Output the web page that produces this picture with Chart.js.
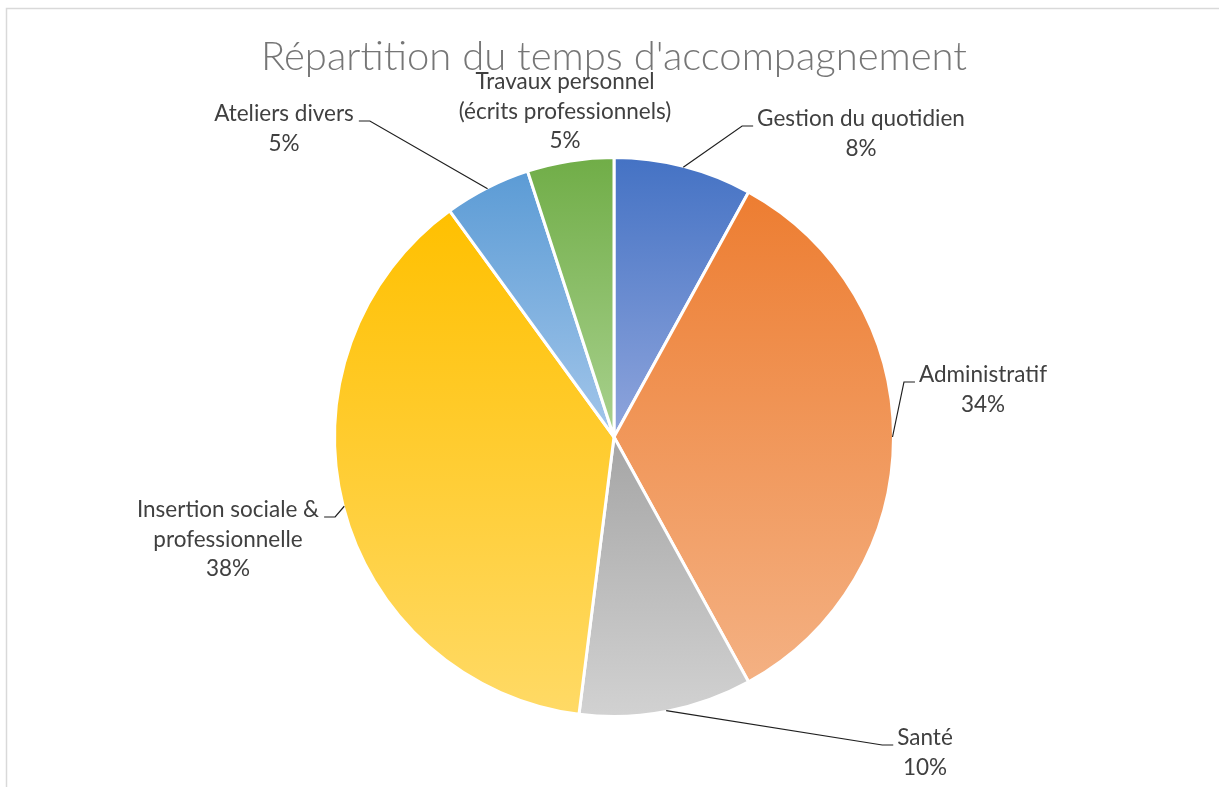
<!DOCTYPE html>
<html lang="fr">
<head>
<meta charset="utf-8">
<title>Répartition du temps d'accompagnement</title>
<script src="https://cdn.jsdelivr.net/npm/chart.js@4.4.1/dist/chart.umd.min.js"></script>
<style>
  html, body { margin: 0; padding: 0; background: #fff; }
  #wrap { width: 1219px; height: 787px; }
</style>
</head>
<body>
<div id="wrap"><canvas id="pieChart" width="1219" height="787"></canvas></div>
<script>
// data
const chartTitle = "Répartition du temps d'accompagnement";
const categories = [
  ['Gestion du quotidien'],
  ['Administratif'],
  ['Santé'],
  ['Insertion sociale &', 'professionnelle'],
  ['Ateliers divers'],
  ['Travaux personnel', '(écrits professionnels)']
];
const shares = [8, 34, 10, 38, 5, 5];

// gradient colours, top -> bottom of each slice
const topColors = ['#4472C4', '#ED7D31', '#A5A5A5', '#FFC000', '#5B9BD5', '#70AD47'];
const bottomColors = ['#8FA5DC', '#F4B183', '#D2D2D2', '#FFDA66', '#A3C6EA', '#A9D18E'];

// label placement: offset of first text line centre from pie centre, side of leader
const labelPlacement = [
  { dx: 247, dy: -318, side: 'left' },
  { dx: 369, dy: -62, side: 'left' },
  { dx: 311, dy: 301, side: 'left' },
  { dx: -386, dy: 73, side: 'right' },
  { dx: -330, dy: -323, side: 'right' },
  { dx: -49, dy: -355, side: null }
];

const labelFont = '22.5px Lato, "Liberation Sans", sans-serif';
const titleFont = '300 40px Lato, "Liberation Sans", sans-serif';
const lineGap = 29.5;

function sliceGradient(context) {
  const i = context.dataIndex;
  const chart = context.chart;
  const area = chart.chartArea;
  if (!area) return topColors[i];
  const cx = (area.left + area.right) / 2;
  const cy = (area.top + area.bottom) / 2;
  const r = Math.min(area.width, area.height) / 2;
  const total = shares.reduce((a, b) => a + b, 0);
  const before = shares.slice(0, i).reduce((a, b) => a + b, 0);
  const start = -Math.PI / 2 + before / total * 2 * Math.PI;
  const end = start + shares[i] / total * 2 * Math.PI;
  let minY = cy, maxY = cy;
  for (let k = 0; k <= 90; k++) {
    const a = start + (end - start) * k / 90;
    const y = cy + r * Math.sin(a);
    minY = Math.min(minY, y);
    maxY = Math.max(maxY, y);
  }
  const g = chart.ctx.createLinearGradient(0, minY, 0, maxY);
  g.addColorStop(0, topColors[i]);
  g.addColorStop(1, bottomColors[i]);
  return g;
}

// light frame like the spreadsheet chart box, plus the title
const frame = {
  id: 'frame',
  beforeDraw(chart) {
    const c = chart.ctx;
    c.save();
    c.fillStyle = '#fff';
    c.fillRect(0, 0, chart.width, chart.height);
    c.strokeStyle = '#d9d9d9';
    c.lineWidth = 1.5;
    c.beginPath();
    c.moveTo(6.5, chart.height);
    c.lineTo(6.5, 8.5);
    c.lineTo(chart.width, 8.5);
    c.stroke();

    c.font = titleFont;
    c.fillStyle = '#767676';
    c.textAlign = 'center';
    c.textBaseline = 'alphabetic';
    const a = chart.chartArea;
    c.fillText(chartTitle, (a.left + a.right) / 2, 70);
    c.restore();
  }
};

// outside labels with leader lines
const outsideLabels = {
  id: 'outsideLabels',
  afterDatasetsDraw(chart) {
    const c = chart.ctx;
    const meta = chart.getDatasetMeta(0);
    c.save();
    c.font = labelFont;
    c.textAlign = 'center';
    c.textBaseline = 'middle';
    meta.data.forEach((arc, i) => {
      const p = labelPlacement[i];
      const tx = arc.x + p.dx;
      const ty = arc.y + p.dy;
      const lines = categories[i].concat([shares[i] + '%']);
      c.fillStyle = '#404040';
      lines.forEach((t, k) => c.fillText(t, tx, ty + k * lineGap));

      if (!p.side) return;
      const mid = (arc.startAngle + arc.endAngle) / 2;
      const r = arc.outerRadius - 1;
      const sx = arc.x + Math.cos(mid) * r;
      const sy = arc.y + Math.sin(mid) * r;
      const w = c.measureText(lines[0]).width;
      const ly = ty + 7;
      let hx, ex;
      if (p.side === 'left') {
        hx = tx - w / 2 - 4;
        ex = hx - 11;
      } else {
        hx = tx + w / 2 + 5;
        ex = hx + 11;
      }
      c.strokeStyle = '#1f1f1f';
      c.lineWidth = 1.2;
      c.beginPath();
      c.moveTo(sx, sy);
      c.lineTo(ex, ly);
      c.lineTo(hx, ly);
      c.stroke();
    });
    c.restore();
  }
};

const ctx = document.getElementById('pieChart').getContext('2d');
const pieChart = new Chart(ctx, {
  type: 'pie',
  data: {
    labels: categories,
    datasets: [{
      data: shares,
      backgroundColor: sliceGradient,
      borderColor: '#ffffff',
      borderWidth: 3
    }]
  },
  options: {
    responsive: false,
    animation: false,
    events: [],
    layout: {
      padding: { top: 156, bottom: 69, left: 300, right: 291 }
    },
    plugins: {
      legend: { display: false },
      tooltip: { enabled: false },
      title: { display: false }
    }
  },
  plugins: [frame, outsideLabels]
});
</script>
</body>
</html>
